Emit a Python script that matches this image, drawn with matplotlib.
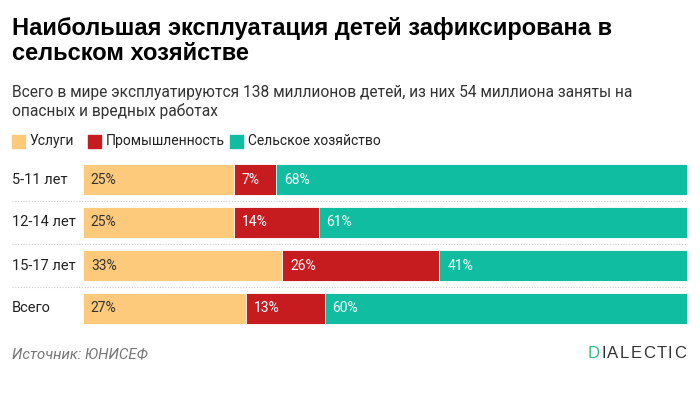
import matplotlib
matplotlib.use("Agg")
import matplotlib.pyplot as plt
import numpy as np

# Данные
groups = ["5-11 лет", "12-14 лет", "15-17 лет", "Всего"]
services = [25, 25, 33, 27]
industry = [7, 14, 26, 13]
agriculture = [68, 61, 41, 60]
series_names = ["Услуги", "Промышленность", "Сельское хозяйство"]

colors = ["#FDC97A", "#C71C1F", "#10BDA0"]
text_colors = ["#333333", "white", "white"]

plt.rcParams["font.family"] = ["Roboto", "DejaVu Sans"]

fig = plt.figure(figsize=(7, 3.94), dpi=100)
ax = fig.add_axes([83 / 700, 1 - 330 / 394, 604 / 700, 172 / 394])

y = np.arange(len(groups))
left = np.zeros(len(groups))
for vals, col, tcol in zip([services, industry, agriculture], colors, text_colors):
    vals = np.array(vals)
    ax.barh(y, vals, left=left, height=0.7, color=col, edgecolor="white", linewidth=0.6)
    for yi, l, v in zip(y, left, vals):
        ax.text(l + 1.3, yi, f"{v}%", va="center", ha="left", fontsize=10, color=tcol)
    left += vals

ax.set_xlim(0, 100)
ax.set_ylim(3.5, -0.5)
ax.axis("off")

for yi, g in zip(y, groups):
    ax.text(-71 / 6.04, yi, g, va="center", ha="left", fontsize=10.5, color="#222222")

for yi in y[:-1] + 0.5:
    ax.axhline(yi, xmin=-71 / 604, xmax=1, color="#cccccc", linestyle=(0, (1, 1.5)),
               linewidth=0.8, clip_on=False)

# Заголовок
fig.text(12 / 700, 1 - 28 / 394, "Наибольшая эксплуатация детей зафиксирована в",
         fontsize=17, fontweight="bold", family="Liberation Sans", va="center", color="black")
fig.text(12 / 700, 1 - 53 / 394, "сельском хозяйстве",
         fontsize=17, fontweight="bold", family="Liberation Sans", va="center", color="black")
fig.text(12 / 700, 1 - 92 / 394,
         "Всего в мире эксплуатируются 138 миллионов детей, из них 54 миллиона заняты на",
         fontsize=11.2, va="center", color="#333333")
fig.text(12 / 700, 1 - 111 / 394, "опасных и вредных работах",
         fontsize=11.2, va="center", color="#333333")

# Легенда
lx = [12, 88, 230]
for x0, name, col in zip(lx, series_names, colors):
    fig.patches.append(plt.Rectangle((x0 / 700, 1 - 148 / 394), 13 / 700, 13 / 394,
                                     transform=fig.transFigure, color=col))
    fig.text((x0 + 18) / 700, 1 - 141 / 394, name, fontsize=10, va="center", color="#222222")

# Подвал
fig.text(12 / 700, 1 - 354 / 394, "Источник: ЮНИСЕФ", fontsize=10.8, style="italic",
         va="center", color="#777777")

# логотип с разрядкой, буквы справа налево
fig.canvas.draw()
x_right = 686
logo = "DIALECTIC"
for i, ch in enumerate(reversed(logo)):
    col = "#2EC27E" if i == len(logo) - 1 else "#333333"
    t = fig.text(x_right / 700, 1 - 354 / 394, ch, fontsize=12, ha="right", va="center",
                 color=col, family="Liberation Sans")
    bb = t.get_window_extent(fig.canvas.get_renderer())
    x_right = bb.x0 - 1.4

fig.savefig("out.png", dpi=100, facecolor="white")
